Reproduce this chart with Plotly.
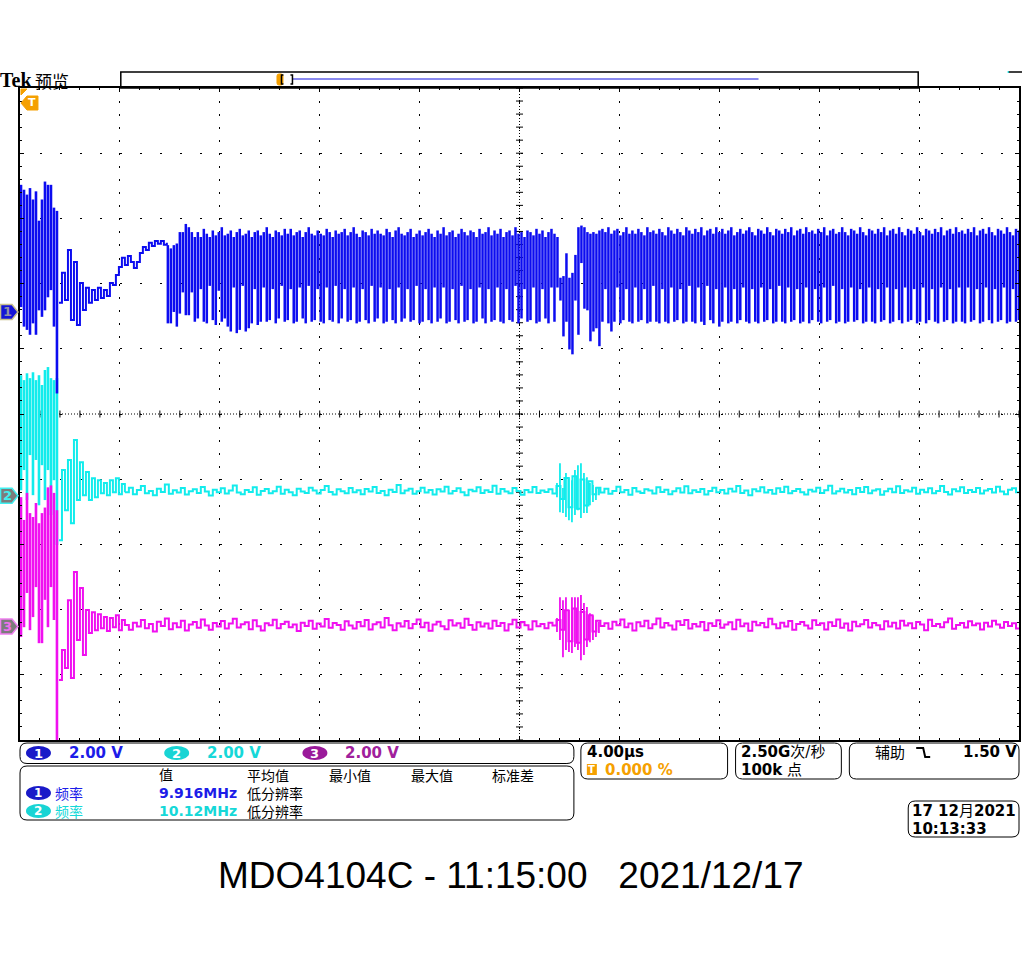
import plotly.graph_objects as go

# ---------------- data (time in µs, voltage in V) ----------------
# screen: 10 div x 4 µs, 10 div x 2 V ; channel ground markers (screen volts)
ch1_offset = 3.13
ch2_offset = -2.51
ch3_offset = -6.52

# CH1 (blue) -- start-up min/max columns
ch1_start_t0, ch1_start_dt = 0.04, 0.12
ch1_start_hi = [3.9, 3.75, 3.6, 3.8, 3.45, 3.7, 2.8, 3.45, 4.0, 3.9, 3.9, 3.2, 3.1]
ch1_start_lo = [0.15, -0.45, -0.55, -0.7, -0.35, -0.7, 0.05, -0.15, 0.05, 0.45, 0.67, -0.45, -2.5]
# CH1 settling trace
ch1_settle_t0, ch1_settle_dt = 1.56, 0.12
ch1_settle = [0.28, 1.20, 0.37, 1.90, -0.25, 1.53, -0.40, 0.89, 0.06, 0.74, 0.28, 0.67, 0.37,
              0.74, 0.43, 0.67, 0.49, 0.89, 0.83, 1.13, 1.38, 1.66, 1.44, 1.72, 1.53, 1.35,
              1.53, 1.81, 1.99, 1.90, 2.12, 2.02, 2.18, 2.09, 2.18, 2.06, 2.12]
# CH1 running clock, min/max per display column
ch1_run_t0, ch1_run_dt = 5.92, 0.12
ch1_run_hi = [2.05, 1.95, 2.05, 2.1, 2.45, 2.45, 2.7, 2.6, 2.45, 2.3,
              2.45, 2.3, 2.55, 2.4, 2.3, 2.5, 2.35, 2.45, 2.6, 2.35,
              2.4, 2.5, 2.3, 2.45, 2.55, 2.35, 2.4, 2.5, 2.3, 2.45,
              2.5, 2.35, 2.45, 2.6, 2.4, 2.3, 2.5, 2.45, 2.35, 2.55,
              2.4, 2.55, 2.35, 2.45, 2.5, 2.3, 2.45, 2.6, 2.4, 2.35,
              2.5, 2.4, 2.35, 2.55, 2.45, 2.3, 2.5, 2.4, 2.45, 2.55,
              2.35, 2.45, 2.6, 2.4, 2.3, 2.5, 2.45, 2.35, 2.55, 2.4,
              2.5, 2.4, 2.35, 2.55, 2.45, 2.3, 2.5, 2.6, 2.4, 2.35,
              2.45, 2.55, 2.3, 2.4, 2.5, 2.35, 2.45, 2.55, 2.4, 2.3,
              2.5, 2.4, 2.6, 2.35, 2.45, 2.5, 2.3, 2.4, 2.55, 2.45,
              2.35, 2.5, 2.45, 2.3, 2.55, 2.4, 2.45, 2.6, 2.35, 2.5,
              2.4, 2.55, 2.3, 2.45, 2.5, 2.35, 2.6, 2.4, 2.45, 2.3,
              2.5, 2.45, 2.35, 2.55, 2.4, 2.5, 2.3, 2.45, 2.55, 2.4,
              2.3, 1.05, 1.1, 1.8, 1.05, 1.2, 1.75, 2.6, 2.65, 2.6, 2.45, 2.4, 2.45, 2.4, 2.5,
              2.55, 2.45, 2.6, 2.4, 2.5, 2.55, 2.35, 2.45, 2.6, 2.4,
              2.5, 2.4, 2.55, 2.45, 2.35, 2.6, 2.45, 2.5, 2.4, 2.55,
              2.45, 2.35, 2.6, 2.5, 2.4, 2.55, 2.45, 2.35, 2.6, 2.5,
              2.4, 2.55, 2.45, 2.6, 2.35, 2.5, 2.55, 2.4, 2.6, 2.45,
              2.55, 2.4, 2.5, 2.6, 2.35, 2.45, 2.55, 2.4, 2.5, 2.6,
              2.45, 2.35, 2.55, 2.5, 2.4, 2.6, 2.45, 2.35, 2.55, 2.5,
              2.4, 2.55, 2.45, 2.6, 2.35, 2.5, 2.55, 2.4, 2.6, 2.45,
              2.5, 2.4, 2.55, 2.45, 2.6, 2.35, 2.5, 2.55, 2.4, 2.45,
              2.6, 2.45, 2.35, 2.55, 2.5, 2.4, 2.6, 2.45, 2.35, 2.55,
              2.5, 2.4, 2.55, 2.45, 2.6, 2.35, 2.5, 2.55, 2.4, 2.6,
              2.45, 2.35, 2.55, 2.5, 2.4, 2.6, 2.45, 2.35, 2.55, 2.5,
              2.4, 2.55, 2.45, 2.6, 2.35, 2.5, 2.55, 2.4, 2.6, 2.45,
              2.5, 2.4, 2.55, 2.45, 2.6, 2.35, 2.5, 2.55, 2.4, 2.6,
              2.45, 2.35, 2.55, 2.5, 2.4, 2.6, 2.45, 2.35, 2.55, 2.5]
ch1_run_lo = [-0.35, -0.35, 0.0, -0.45, -0.05, 0.6, -0.1, -0.1, 0.6, -0.3,
              -0.2, 0.7, -0.3, -0.35, 0.8, -0.25, -0.4, 0.65, -0.3, -0.2,
              -0.45, -0.6, 0.75, -0.65, -0.55, 0.8, -0.6, -0.5, -0.35, 0.7,
              -0.4, -0.3, 0.75, -0.3, -0.25, 0.7, -0.35, -0.2, 0.8, -0.3,
              -0.25, 0.7, -0.35, -0.3, 0.75, -0.2, -0.35, 0.8, -0.3, -0.25,
              0.7, -0.3, -0.35, 0.75, -0.25, -0.3, 0.8, -0.35, -0.2, 0.7,
              -0.3, -0.25, 0.75, -0.35, -0.3, 0.7, -0.25, -0.35, 0.8, -0.3,
              -0.2, 0.75, -0.35, -0.3, 0.7, -0.25, -0.35, 0.75, -0.3, -0.2,
              0.7, -0.3, -0.25, 0.8, -0.35, -0.3, 0.7, -0.25, -0.35, 0.75,
              -0.3, -0.2, 0.75, -0.35, -0.3, 0.7, -0.25, -0.35, 0.8, -0.3,
              -0.25, 0.7, -0.35, -0.3, 0.75, -0.2, -0.35, 0.7, -0.3, -0.25,
              0.75, -0.3, -0.35, 0.7, -0.25, -0.3, 0.8, -0.35, -0.2, 0.7,
              -0.3, -0.25, 0.75, -0.35, -0.3, 0.7, -0.2, -0.35, 0.75, -0.3,
              0.75, 0.35, -0.75, -0.3, -1.15, -1.3, 0.35, -0.7, 1.5, 0.1, 0.05, -0.9, -0.6, -0.5, -1.05,
              -0.3, 0.7, -0.35, -0.6, -0.3, 0.75, -0.35, -0.25, 0.7, -0.3,
              -0.35, 0.75, -0.3, -0.25, 0.7, -0.35, -0.3, 0.8, -0.3, -0.35,
              0.7, -0.3, -0.35, 0.75, -0.3, -0.25, 0.7, -0.35, -0.3, 0.8,
              -0.3, -0.35, 0.75, -0.3, -0.4, 0.8, -0.25, -0.35, 0.7, -0.45,
              -0.3, 0.75, -0.35, -0.3, 0.7, -0.35, -0.25, 0.75, -0.3, -0.35,
              0.7, -0.3, -0.35, 0.75, -0.3, -0.25, 0.7, -0.35, -0.3, 0.8,
              -0.3, -0.35, 0.75, -0.3, -0.25, 0.7, -0.35, -0.3, 0.75, -0.35,
              -0.25, 0.7, -0.3, -0.35, 0.75, -0.3, -0.25, 0.8, -0.35, -0.3,
              0.7, -0.35, -0.3, 0.75, -0.3, -0.25, 0.7, -0.35, -0.3, 0.75,
              -0.3, -0.35, 0.7, -0.3, -0.25, 0.75, -0.35, -0.3, 0.7, -0.25,
              -0.35, 0.75, -0.3, -0.25, 0.7, -0.35, -0.3, 0.75, -0.35, -0.25,
              0.7, -0.3, -0.35, 0.75, -0.3, -0.25, 0.7, -0.35, -0.3, 0.75,
              -0.3, -0.35, 0.75, -0.3, -0.25, 0.7, -0.35, -0.3, 0.75, -0.25,
              -0.35, 0.7, -0.3, -0.25, 0.75, -0.35, -0.3, 0.7, -0.3, -0.25]

# CH2 (cyan)
ch2_start_t0, ch2_start_dt = 0.04, 0.12
ch2_start_hi = [3.7, 3.55, 3.76, 3.61, 3.79, 3.55, 3.7, 3.4, 3.86, 3.95, 3.61, 3.55, 3.61]
ch2_start_lo = [0.17, 0.79, -0.13, 1.25, 0.02, 1.1, -0.29, 0.94, -0.13, 0.79, -0.59, 0.48, -1.51]
ch2_decay_t0, ch2_decay_dt = 1.56, 0.12
ch2_decay = [-1.36, 0.79, -0.44, 1.10, -0.84, 1.71, -0.13, 1.03, 0.02, 0.73, -0.13, 0.54,
             -0.04, 0.48, 0.08, 0.39, 0.02, 0.48, 0.11, 0.54, 0.05, 0.36, 0.11]
ch2_noise_t0, ch2_noise_dt = 4.2, 0.16
ch2_noise = [0.11, 0.25, 0.05, 0.18, 0.30, 0.08, 0.15, 0.02, 0.22, 0.12, 0.35, 0.06, 0.17, 0.10, 0.24,
             0.04, 0.14, 0.20, 0.09, 0.27, 0.13, 0.01, 0.19, 0.11, 0.23, 0.07, 0.16, 0.32, 0.10, 0.05,
             0.18, 0.12, 0.26, 0.03, 0.15, 0.21, 0.08, 0.14, 0.28, 0.06, 0.19, 0.11, 0.02, 0.22, 0.13,
             0.09, 0.25, 0.16, 0.07, 0.18, 0.30, 0.12, 0.04, 0.20, 0.14, 0.08, 0.24, 0.11, 0.17, 0.05,
             0.21, 0.13, 0.27, 0.09, 0.15, 0.02, 0.19, 0.12, 0.33, 0.08, 0.16, 0.22, 0.06, 0.14, 0.25,
             0.10, 0.18, 0.04, 0.20, 0.13, 0.28, 0.07, 0.15, 0.23, 0.11, 0.02, 0.19, 0.14, 0.26, 0.09,
             0.17, 0.12, 0.31, 0.06, 0.21, 0.13, 0.08, 0.24, 0.15, 0.03, 0.18, 0.11, 0.27, 0.09, 0.16,
             0.12, 0.20, 0.07, 0.30, -0.10, 0.55, -0.35, 0.60, -0.40, 0.50, -0.30, 0.45, 0.05, 0.25, 0.10,
             0.22, 0.06, 0.15, 0.28, 0.11, 0.18, 0.03, 0.24, 0.13, 0.09, 0.20, 0.16, 0.07, 0.26, 0.12,
             0.19, 0.05, 0.14, 0.23, 0.10, 0.29, 0.08, 0.17, 0.12, 0.21, 0.04, 0.15, 0.25, 0.11, 0.18,
             0.07, 0.22, 0.13, 0.30, 0.09, 0.16, 0.02, 0.20, 0.14, 0.26, 0.10, 0.18, 0.06, 0.23, 0.12,
             0.28, 0.08, 0.15, 0.21, 0.11, 0.04, 0.19, 0.13, 0.25, 0.09, 0.17, 0.31, 0.07, 0.14, 0.22,
             0.10, 0.18, 0.05, 0.24, 0.12, 0.27, 0.08, 0.16, 0.20, 0.03, 0.14, 0.22, 0.11, 0.29, 0.09,
             0.17, 0.13, 0.25, 0.06, 0.19, 0.11, 0.23, 0.08, 0.15, 0.30, 0.12, 0.04, 0.20, 0.14, 0.26,
             0.09, 0.18, 0.12, 0.24, 0.07, 0.16, 0.21, 0.10, 0.28, 0.13, 0.05, 0.19, 0.23, 0.11, 0.17]
ch2_burst_t0, ch2_burst_dt = 21.5, 0.12
ch2_burst_hi = [0.39, 1.00, 0.24, 0.70, 0.57, 0.48, 0.79, 0.94, 1.00, 0.70, 0.57, 0.39, 0.33, 0.26, 0.24]
ch2_burst_lo = [-0.04, -0.50, -0.53, -0.65, -0.75, -0.81, -0.59, -0.44, -0.68, -0.53, -0.53, -0.29, -0.19, -0.13, 0.02]

# CH3 (magenta)
ch3_start_t0, ch3_start_dt = 0.04, 0.12
ch3_start_hi = [3.97, 3.27, 4.10, 3.48, 3.36, 3.79, 3.17, 3.48, 3.65, 4.27, 4.33, 4.10, 3.57]
ch3_start_lo = [-0.32, -0.02, 1.03, -0.11, 0.29, 1.21, -0.51, -0.51, 0.82, -0.02, 1.21, 0.20, -3.63]
ch3_decay_t0, ch3_decay_dt = 1.56, 0.12
ch3_decay = [-1.64, -0.72, -1.27, 0.81, -1.58, 1.67, -0.41, 1.18, -0.87, 0.51, -0.20, 0.44,
             -0.11, 0.38, -0.05, 0.29, -0.14, 0.26, -0.02, 0.35, -0.11, 0.20, 0.02]
ch3_noise_t0, ch3_noise_dt = 4.2, 0.16
ch3_noise = [0.05, -0.10, 0.12, 0.00, 0.20, -0.05, 0.08, -0.15, 0.15, 0.02, 0.25, -0.08, 0.10, -0.02, 0.18,
             -0.12, 0.06, 0.14, -0.04, 0.22, 0.03, -0.10, 0.11, 0.00, 0.17, -0.06, 0.09, 0.24, -0.03, 0.07,
             0.13, -0.08, 0.19, 0.01, -0.12, 0.10, 0.04, 0.21, -0.05, 0.08, 0.15, -0.02, 0.06, -0.14, 0.12,
             0.02, 0.18, -0.07, 0.09, 0.00, 0.23, -0.04, 0.11, 0.05, -0.10, 0.16, 0.03, -0.06, 0.14, 0.01,
             0.20, -0.09, 0.07, 0.13, -0.03, 0.26, 0.04, -0.11, 0.10, 0.00, 0.17, -0.05, 0.08, 0.22, -0.02,
             0.12, -0.13, 0.06, 0.15, 0.01, -0.08, 0.19, 0.03, 0.10, -0.04, 0.24, 0.05, -0.10, 0.13, 0.00,
             0.09, -0.06, 0.18, 0.02, 0.11, -0.12, 0.07, 0.21, -0.03, 0.14, 0.04, -0.09, 0.16, 0.01, 0.08,
             -0.05, 0.12, 0.03, 0.20, -0.10, 0.50, -0.45, 0.55, -0.50, 0.45, -0.40, 0.35, -0.15, 0.18, 0.02,
             0.10, -0.07, 0.15, 0.04, 0.22, -0.02, 0.09, -0.12, 0.13, 0.01, 0.18, -0.05, 0.07, 0.25, -0.03,
             0.11, 0.03, -0.09, 0.16, 0.05, 0.20, -0.06, 0.08, 0.00, 0.14, -0.11, 0.10, 0.02, 0.19, -0.04,
             0.06, 0.13, -0.08, 0.21, 0.01, 0.09, -0.13, 0.15, 0.04, 0.11, -0.02, 0.24, 0.07, -0.05, 0.12,
             0.00, 0.17, -0.10, 0.08, 0.14, 0.03, -0.06, 0.19, 0.05, 0.10, -0.09, 0.13, 0.02, 0.22, -0.04,
             0.09, -0.12, 0.15, 0.01, 0.07, 0.20, -0.03, 0.11, 0.04, -0.08, 0.16, 0.00, 0.12, -0.06, 0.18,
             0.03, 0.10, -0.05, 0.14, 0.06, -0.11, 0.21, 0.02, 0.08, -0.02, 0.13, 0.25, -0.07, 0.05, 0.11,
             -0.03, 0.16, 0.04, 0.09, -0.09, 0.12, 0.00, 0.18, 0.06, -0.04, 0.14, 0.02, 0.10, -0.06, 0.08]
ch3_burst_t0, ch3_burst_dt = 21.5, 0.12
ch3_burst_hi = [0.26, 0.90, 0.81, 0.90, 0.51, 0.90, 0.90, 0.90, 0.97, 0.72, 0.60, 0.41, 0.35, 0.20, 0.14]
ch3_burst_lo = [-0.17, -0.41, -0.94, -0.72, -0.78, -0.81, -0.63, -0.72, -1.03, -0.87, -0.63, -0.48, -0.41, -0.32, -0.20]

# ---------------- text content ----------------
scale_texts = ["2.00 V", "2.00 V", "2.00 V"]
meas_headers = ["值", "平均值", "最小值", "最大值", "标准差"]
meas_quantity = ["频率", "频率"]
meas_values = ["9.916MHz", "10.12MHz"]
meas_notes = ["低分辨率", "低分辨率"]
title_text = "MDO4104C - 11:15:00\u00a0\u00a0\u00a02021/12/17"

# ---------------- colours ----------------
C1, C2, C3 = "#0c0cf0", "#12ecec", "#f010f0"
C1T, C2T, C3T = "#1c1ce8", "#16d8d8", "#a0209c"
ORANGE = "#f5a000"

# ---------------- geometry ----------------
W, H = 1024, 960
PL, PR, PT, PB = 20, 1021, 88, 740


def px(x):
    return (x - PL) / (PR - PL)


def py(y):
    return (PB - y) / (PB - PT)


def bar_xy(t0, dt, hi, lo, off):
    xs, ys = [], []
    for i, (h, l) in enumerate(zip(hi, lo)):
        t = t0 + i * dt
        xs += [t, t, None]
        ys += [h + off, l + off, None]
    return xs, ys


def line_xy(t0, dt, vals, off):
    return [t0 + i * dt for i in range(len(vals))], [v + off for v in vals]


fig = go.Figure()


def add_bars(t0, dt, hi, lo, off, color, width):
    xs, ys = bar_xy(t0, dt, hi, lo, off)
    fig.add_trace(go.Scatter(x=xs, y=ys, mode="lines", line=dict(color=color, width=width),
                             hoverinfo="skip", showlegend=False))


def add_line(t0, dt, vals, off, color, width):
    xs, ys = line_xy(t0, dt, vals, off)
    fig.add_trace(go.Scatter(x=xs, y=ys, mode="lines", line=dict(color=color, width=width, shape="hv"),
                             hoverinfo="skip", showlegend=False))


# graticule centre-line ticks
tx = [i * 0.8 for i in range(51)]
fig.add_trace(go.Scatter(x=tx, y=[0] * len(tx), mode="markers",
                         marker=dict(symbol="line-ns", size=5, line=dict(color="black", width=1)),
                         hoverinfo="skip", showlegend=False))
ty = [-10 + i * 0.4 for i in range(51)]
fig.add_trace(go.Scatter(x=[20] * len(ty), y=ty, mode="markers",
                         marker=dict(symbol="line-ew", size=5, line=dict(color="black", width=1)),
                         hoverinfo="skip", showlegend=False))

# channel 2
add_bars(ch2_start_t0, ch2_start_dt, ch2_start_hi, ch2_start_lo, ch2_offset, C2, 2.6)
add_line(ch2_decay_t0, ch2_decay_dt, ch2_decay, ch2_offset, C2, 2)
add_line(ch2_noise_t0, ch2_noise_dt, ch2_noise, ch2_offset, C2, 2)
add_bars(ch2_burst_t0, ch2_burst_dt, ch2_burst_hi, ch2_burst_lo, ch2_offset, C2, 1.8)
# channel 3
add_bars(ch3_start_t0, ch3_start_dt, ch3_start_hi, ch3_start_lo, ch3_offset, C3, 2.6)
add_line(ch3_decay_t0, ch3_decay_dt, ch3_decay, ch3_offset, C3, 2)
add_line(ch3_noise_t0, ch3_noise_dt, ch3_noise, ch3_offset, C3, 2)
add_bars(ch3_burst_t0, ch3_burst_dt, ch3_burst_hi, ch3_burst_lo, ch3_offset, C3, 1.8)
# channel 1
add_bars(ch1_start_t0, ch1_start_dt, ch1_start_hi, ch1_start_lo, ch1_offset, C1, 2.6)
add_line(ch1_settle_t0, ch1_settle_dt, ch1_settle, ch1_offset, C1, 2)
add_bars(ch1_run_t0, ch1_run_dt, ch1_run_hi, ch1_run_lo, ch1_offset, C1, 2.5)

shapes = []
# centre cross lines (dense dots)
shapes.append(dict(type="line", xref="x", yref="y", x0=20, x1=20, y0=-10, y1=10, layer="below",
                   line=dict(color="black", width=1, dash="1px,2px")))
shapes.append(dict(type="line", xref="x", yref="y", x0=0, x1=40, y0=0, y1=0, layer="below",
                   line=dict(color="black", width=1, dash="1px,2px")))


def poly(points, fill, line_color=None, lw=1):
    path = "M" + " L".join(f"{px(x)},{py(y)}" for x, y in points) + " Z"
    return dict(type="path", xref="paper", yref="paper", path=path, fillcolor=fill,
                line=dict(color=line_color or fill, width=lw))


def seg(points, color, lw):
    path = "M" + " L".join(f"{px(x)},{py(y)}" for x, y in points)
    return dict(type="path", xref="paper", yref="paper", path=path,
                line=dict(color=color, width=lw))


def rrect(x0, y0, x1, y1, r=6, color="black", width=1, fill=None):
    X0, X1, Y0, Y1 = px(x0), px(x1), py(y0), py(y1)
    rx, ry = r / (PR - PL), r / (PB - PT)
    path = (f"M{X0 + rx},{Y0} L{X1 - rx},{Y0} Q{X1},{Y0} {X1},{Y0 - ry} "
            f"L{X1},{Y1 + ry} Q{X1},{Y1} {X1 - rx},{Y1} L{X0 + rx},{Y1} Q{X0},{Y1} {X0},{Y1 + ry} "
            f"L{X0},{Y0 - ry} Q{X0},{Y0} {X0 + rx},{Y0} Z")
    d = dict(type="path", xref="paper", yref="paper", path=path, line=dict(color=color, width=width))
    if fill:
        d["fillcolor"] = fill
    return d


def ellipse(x0, y0, x1, y1, fill):
    return dict(type="circle", xref="paper", yref="paper", x0=px(x0), x1=px(x1), y0=py(y1), y1=py(y0),
                fillcolor=fill, line=dict(color=fill, width=0))


annotations = []


def ann(text, x, y, size, color="black", family="DejaVu Sans, Noto Sans CJK SC", anchor="left",
        yanchor="middle", align="left"):
    annotations.append(dict(text=text, x=px(x), y=py(y), xref="paper", yref="paper", showarrow=False,
                            xanchor=anchor, yanchor=yanchor, borderpad=0, align=align,
                            font=dict(size=size, color=color, family=family)))


# channel ground markers on the left
def y_of(off):
    return 414 - off * 32.6


for name, off, fill, edge, dig in [("1", ch1_offset, "#1414d8", "#c8c08c", "#9090a8"),
                                  ("2", ch2_offset, "#7c7c7c", "#40f0f0", "#40f0f0"),
                                  ("3", ch3_offset, "#7c7c7c", "#f080f0", "#f070f0")]:
    yc = y_of(off)
    shapes.append(poly([(0.5, yc - 7.5), (12, yc - 7.5), (18, yc), (12, yc + 7.5), (0.5, yc + 7.5)],
                       fill, edge, 1.5))
    ann(f"<b>{name}</b>", 7, yc, 13, dig, "DejaVu Sans", "center")

# trigger markers
shapes.append(poly([(21, 103), (27, 96), (38, 96), (38, 110), (27, 110)], ORANGE))
ann("<b>T</b>", 32, 103, 11, "white", "DejaVu Sans", "center")
shapes.append(poly([(21, 89), (27, 89), (21, 95)], ORANGE))

# header: record view
ann("<b>Tek</b>", -1, 80, 20, "black", "Liberation Serif, DejaVu Serif")
ann("预览", 34, 80, 17, "black", "Noto Sans CJK SC")
shapes.append(dict(type="rect", xref="paper", yref="paper", x0=px(121), x1=px(920), y0=py(88), y1=py(72),
                   line=dict(color="black", width=1.5)))
shapes.append(seg([(293, 79), (760, 79)], "#1414e0", 1.2))
shapes.append(rrect(277.5, 74, 283.5, 85, r=2, color=ORANGE, width=1, fill=ORANGE))
shapes.append(seg([(284, 75), (282, 75), (282, 84), (284, 84)], "black", 1.5))
shapes.append(seg([(291, 75), (293, 75), (293, 84), (291, 84)], "black", 1.5))
shapes.append(seg([(1010, 72), (1024, 72)], "black", 1.5))
shapes.append(seg([(1009.5, 72), (1011, 72)], C2, 1.5))

# ---- bottom panels ----
shapes.append(rrect(20, 743, 575, 763.5, r=7))
shapes.append(rrect(20, 766, 575, 820, r=7))
shapes.append(rrect(582, 743, 729, 779, r=7))
shapes.append(rrect(737, 743, 843, 779, r=7))
shapes.append(rrect(851, 743, 1021, 779, r=7))
shapes.append(rrect(910, 801, 1021, 837, r=7))

badge_cols = [("#1a1ac8", C1T), ("#18d4d4", C2T), ("#9a1a9a", C3T)]
for k, (bfill, tcol) in enumerate(badge_cols):
    bx = 26 + k * 138.5
    shapes.append(ellipse(bx, 746, bx + 25, 760, bfill))
    ann(f"<b>{k + 1}</b>", bx + 12.5, 753, 13, "white", "DejaVu Sans", "center")
    ann(f"<b>{scale_texts[k]}</b>", bx + 42, 753, 15, tcol)

# measurement table: one text block per column (header row + two rows, 18 px apart)
row_cols = [badge_cols[0][1], badge_cols[1][1]]
col_x = [158, 246, 329, 411, 492]
ann("<br>".join(["\u00a0"] + [f"<span style='color:{c}'>{q}</span>" for c, q in zip(row_cols, meas_quantity)]),
    54, 793, 14, "black", "Noto Sans CJK SC")
ann("<br>".join([meas_headers[0]] + [f"<span style='color:{c}'><b>{v}</b></span>" for c, v in zip(row_cols, meas_values)]),
    col_x[0], 793, 14, "black", "DejaVu Sans, Noto Sans CJK SC")
ann("<br>".join([meas_headers[1]] + meas_notes), col_x[1], 793, 14, "black", "Noto Sans CJK SC")
for hx, htxt in zip(col_x[2:], meas_headers[2:]):
    ann(htxt, hx, 775, 14, "black", "Noto Sans CJK SC")
for r in range(2):
    yy = 793 + r * 18
    bfill = badge_cols[r][0]
    shapes.append(ellipse(26, yy - 7, 51, yy + 7, bfill))
    ann(f"<b>{r + 1}</b>", 38.5, yy, 12, "white", "DejaVu Sans", "center")

ann("<b>4.00µs</b>", 587, 752, 15, "black")
shapes.append(dict(type="rect", xref="paper", yref="paper", x0=px(588), x1=px(598), y0=py(775), y1=py(764),
                   fillcolor=ORANGE, line=dict(color=ORANGE, width=0)))
ann("<b>T</b>", 593, 769.5, 10, "white", "DejaVu Sans", "center")
ann("<b>0.000 %</b>", 605, 769.5, 15, ORANGE)
ann("<b>2.50G</b>次/秒", 741, 752, 15, "black")
ann("<b>100k</b> 点", 741, 769.5, 15, "black")
ann("辅助", 876, 752, 15, "black", "Noto Sans CJK SC")
shapes.append(seg([(918, 748), (925, 748), (927, 757), (932, 757)], "black", 2))
ann("<b>1.50 V</b>", 964, 752, 15, "black")
ann("<b>17 12</b>月<b>2021</b>", 913, 811, 15, "black")
ann("<b>10:13:33</b>", 913, 828.5, 15, "black")

ann(title_text, 512, 876, 37, "black", "Liberation Sans, Arial", "center")

axis_common = dict(showgrid=True, gridcolor="black", gridwidth=1, zeroline=False, showticklabels=False,
                   ticks="inside", ticklen=4, tickcolor="black", tickwidth=1,
                   showline=True, linecolor="black", linewidth=2, mirror="allticks", fixedrange=True)
fig.update_layout(
    width=W, height=H, margin=dict(l=PL, r=W - PR, t=PT, b=H - PB),
    paper_bgcolor="white", plot_bgcolor="white", showlegend=False,
    xaxis=dict(range=[0, 40], tick0=0, dtick=4, griddash="2px,11.04px",
               minor=dict(dtick=0.8, ticks="inside", ticklen=2, tickcolor="black", showgrid=False),
               **axis_common),
    yaxis=dict(range=[-10, 10], tick0=-10, dtick=2, griddash="2px,18.02px",
               minor=dict(dtick=0.4, ticks="inside", ticklen=2, tickcolor="black", showgrid=False),
               **axis_common),
    shapes=shapes, annotations=annotations,
)

fig.write_html("out.html")
